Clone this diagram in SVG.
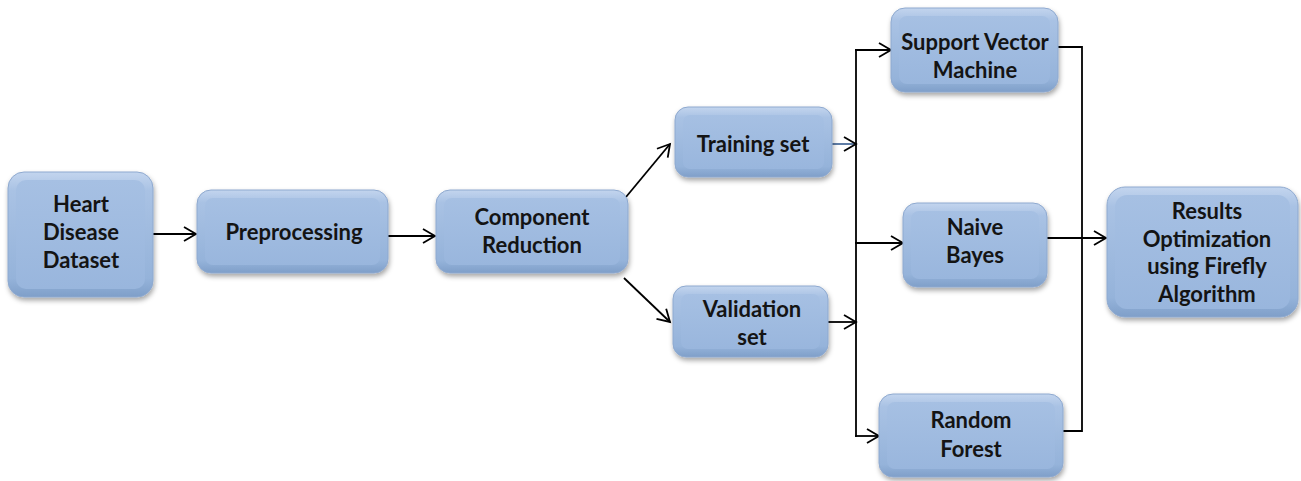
<svg xmlns="http://www.w3.org/2000/svg" width="1301" height="481" viewBox="0 0 1301 481">
<style>
.box{fill:url(#edge);stroke:#8ea9cf;stroke-width:1;filter:url(#sh)}
.face{fill:url(#faceG)}
.t{font-family:Lato,"Liberation Sans",sans-serif;font-weight:bold;font-size:22px;fill:#141414;text-anchor:middle}
.c{fill:none;stroke:#000;stroke-width:1.8}
</style>
<defs>
<linearGradient id="edge" x1="0" y1="0" x2="0" y2="1">
<stop offset="0" stop-color="#c3d5ee"/>
<stop offset="0.15" stop-color="#a9c2e4"/>
<stop offset="0.85" stop-color="#95b3da"/>
<stop offset="1" stop-color="#7f9fc9"/>
</linearGradient>
<linearGradient id="faceG" x1="0" y1="0" x2="0" y2="1">
<stop offset="0" stop-color="#a6c0e3"/>
<stop offset="1" stop-color="#99b6dd"/>
</linearGradient>
<filter id="sh" x="-10%" y="-10%" width="120%" height="130%">
<feDropShadow dx="1" dy="3" stdDeviation="2.5" flood-color="#000" flood-opacity="0.35"/>
</filter>
<marker id="ar" markerUnits="userSpaceOnUse" markerWidth="16" markerHeight="18" refX="14" refY="9" orient="auto" overflow="visible">
<path d="M2,2 L14,9 L2,16" fill="none" stroke="#000" stroke-width="1.8"/>
</marker>
</defs>
<g id="connectors">
<line class="c" x1="153" y1="234" x2="196" y2="234" marker-end="url(#ar)"/>
<line class="c" x1="388" y1="236" x2="435" y2="236" marker-end="url(#ar)"/>
<line class="c" x1="626" y1="197" x2="670" y2="144" marker-end="url(#ar)"/>
<line class="c" x1="624" y1="278" x2="670" y2="322" marker-end="url(#ar)"/>
<line class="c" x1="832" y1="144" x2="856" y2="144" marker-end="url(#ar)" style="stroke:#4d6f9c"/>
<line class="c" x1="828" y1="322" x2="856" y2="322" marker-end="url(#ar)"/>
<line class="c" x1="856" y1="49" x2="856" y2="437"/>
<line class="c" x1="855" y1="50" x2="891" y2="50" marker-end="url(#ar)"/>
<line class="c" x1="855" y1="243" x2="903" y2="243" marker-end="url(#ar)"/>
<line class="c" x1="855" y1="436" x2="879" y2="436" marker-end="url(#ar)"/>
<polyline class="c" points="1058,47 1082,47 1082,431 1063,431"/>
<line class="c" x1="1047" y1="238" x2="1106" y2="238" marker-end="url(#ar)"/>
</g>
<g id="heart">
<rect class="box" x="8" y="172" width="145" height="125" rx="16"/>
<rect class="face" x="16" y="180" width="129" height="109" rx="10"/>
<text class="t" x="81" y="212">Heart</text>
<text class="t" x="81" y="240">Disease</text>
<text class="t" x="81" y="268">Dataset</text>
</g>
<g id="preprocessing">
<rect class="box" x="197" y="190" width="191" height="83" rx="14"/>
<rect class="face" x="205" y="198" width="175" height="67" rx="8"/>
<text class="t" x="294" y="240">Preprocessing</text>
</g>
<g id="component">
<rect class="box" x="436" y="190" width="192" height="83" rx="14"/>
<rect class="face" x="444" y="198" width="176" height="67" rx="8"/>
<text class="t" x="532" y="225">Component</text>
<text class="t" x="532" y="253">Reduction</text>
</g>
<g id="training">
<rect class="box" x="675" y="107" width="157" height="70" rx="13"/>
<rect class="face" x="683" y="115" width="141" height="54" rx="7"/>
<text class="t" x="753" y="152">Training set</text>
</g>
<g id="validation">
<rect class="box" x="673" y="286" width="155" height="71" rx="13"/>
<rect class="face" x="681" y="294" width="139" height="55" rx="7"/>
<text class="t" x="752" y="317">Validation</text>
<text class="t" x="752" y="345">set</text>
</g>
<g id="svm">
<rect class="box" x="891" y="8" width="167" height="84" rx="14"/>
<rect class="face" x="899" y="16" width="151" height="68" rx="8"/>
<text class="t" x="975" y="50">Support Vector</text>
<text class="t" x="975" y="78">Machine</text>
</g>
<g id="naive">
<rect class="box" x="903" y="203" width="144" height="84" rx="14"/>
<rect class="face" x="911" y="211" width="128" height="68" rx="8"/>
<text class="t" x="975" y="235">Naive</text>
<text class="t" x="975" y="263">Bayes</text>
</g>
<g id="random">
<rect class="box" x="879" y="394" width="184" height="83" rx="14"/>
<rect class="face" x="887" y="402" width="168" height="67" rx="8"/>
<text class="t" x="971" y="428">Random</text>
<text class="t" x="971" y="457">Forest</text>
</g>
<g id="results">
<rect class="box" x="1107" y="187" width="191" height="130" rx="18"/>
<rect class="face" x="1115" y="195" width="175" height="114" rx="12"/>
<text class="t" x="1207" y="219">Results</text>
<text class="t" x="1207" y="247">Optimization</text>
<text class="t" x="1207" y="274">using Firefly</text>
<text class="t" x="1207" y="302">Algorithm</text>
</g>
</svg>
